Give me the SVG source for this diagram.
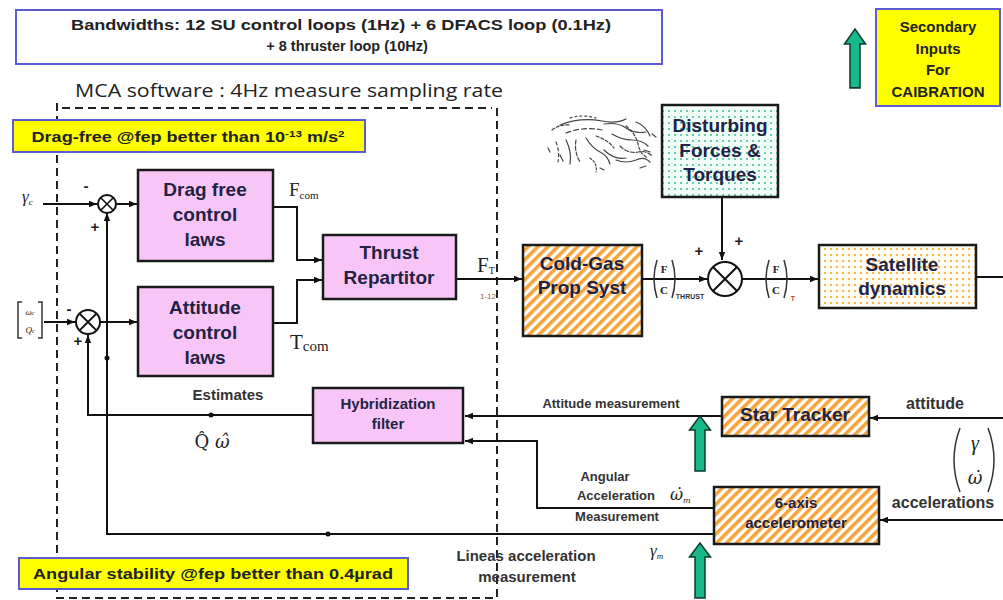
<svg xmlns="http://www.w3.org/2000/svg" width="1003" height="600" viewBox="0 0 1003 600">
  <defs>
    <pattern id="hatch" patternUnits="userSpaceOnUse" width="7" height="7" patternTransform="rotate(45)">
      <rect width="7" height="7" fill="#ffffff"/>
      <rect width="3.6" height="7" fill="#f4a43a"/>
    </pattern>
    <pattern id="dotsGreen" patternUnits="userSpaceOnUse" width="6" height="6">
      <rect width="6" height="6" fill="#f1fcf7"/>
      <circle cx="3" cy="3" r="1" fill="#3dbd9a"/>
    </pattern>
    <pattern id="dotsOrange" patternUnits="userSpaceOnUse" width="6" height="6">
      <rect width="6" height="6" fill="#fffdf5"/>
      <circle cx="3" cy="3" r="1.2" fill="#f6b84e"/>
    </pattern>
    <marker id="arr" viewBox="0 0 10 10" refX="10" refY="5" markerWidth="8" markerHeight="8" orient="auto" markerUnits="userSpaceOnUse">
      <path d="M0 1 L10 5 L0 9 z" fill="#111"/>
    </marker>
    <path id="greenArrow" d="M0 0 L10.5 14 L5 14 L5 55 L-5 55 L-5 14 L-10.5 14 Z"/>
    <style>
      .box { stroke: #1a1a1a; stroke-width: 2.5; }
      .pink { fill: #f8c6f6; }
      .hatch { fill: url(#hatch); }
      .yel { fill: #ffff00; stroke: #5b5bd6; stroke-width: 2; }
      .line { fill: none; stroke: #111; stroke-width: 2; }
      .dash { fill: none; stroke: #222; stroke-width: 2; stroke-dasharray: 8 5; }
      .garrow { fill: #17b88a; stroke: #0d3a2c; stroke-width: 1.5; }
      .bt { font-family: "Liberation Sans", Arial, sans-serif; font-weight: bold; fill: #222244; text-anchor: middle; font-size: 19px; }
      .bs { font-size: 15px; }
      .lbl { font-family: "Liberation Sans", Arial, sans-serif; font-weight: bold; fill: #333; text-anchor: middle; font-size: 13px; }
      .l15 { font-size: 15px; }
      .l16 { font-size: 16px; }
      .note { font-family: "Liberation Sans", Arial, sans-serif; font-weight: bold; fill: #222; text-anchor: middle; font-size: 15px; }
      .math { font-family: "Liberation Serif", "Times New Roman", serif; fill: #222; }
      .dmath { font-family: "DejaVu Serif", serif; fill: #222; }
      .it { font-style: italic; }
      .sign { font-family: "Liberation Sans", Arial, sans-serif; font-weight: bold; fill: #222; font-size: 15px; text-anchor: middle; }
    </style>
  </defs>

  <rect width="1003" height="600" fill="#ffffff"/>

  <!-- header notes -->
  <g id="bandwidths">
    <rect x="16" y="10" width="646" height="54" fill="#ffffff" stroke="#5b5bd6" stroke-width="2"/>
    <text class="note" x="341" y="30" style="font-size:14.5px" textLength="540" lengthAdjust="spacingAndGlyphs">Bandwidths:  12 SU control loops (1Hz) + 6 DFACS loop (0.1Hz)</text>
    <text class="note" x="347" y="51" style="font-size:14.5px">+ 8 thruster loop (10Hz)</text>
  </g>

  <g id="calibration">
    <use href="#greenArrow" class="garrow" transform="translate(855 29) scale(1 1.07)"/>
    <rect x="876" y="9" width="124" height="97" class="yel"/>
    <text class="note" x="938" y="32">Secondary</text>
    <text class="note" x="938" y="54">Inputs</text>
    <text class="note" x="938" y="75">For</text>
    <text class="note" x="938" y="97">CAIBRATION</text>
  </g>

  <text id="mca-title" x="289" y="97" font-family="'Open Sans', 'Liberation Sans', sans-serif" font-size="18" fill="#222" text-anchor="middle" textLength="428" lengthAdjust="spacingAndGlyphs">MCA software : 4Hz measure sampling rate</text>

  <!-- software boundary -->
  <g id="mca-boundary">
    <path class="dash" d="M57 103 V598 H497 V103"/>
    <path class="dash" d="M62 108 H492"/>
  </g>

  <g id="drag-free-note">
    <rect x="13" y="120" width="352" height="32" class="yel"/>
    <text class="note" x="188" y="142" style="font-size:14px" textLength="313" lengthAdjust="spacingAndGlyphs">Drag-free @fep better than 10<tspan font-size="9" dy="-5">-13</tspan><tspan dy="5"> m/s</tspan><tspan font-size="9" dy="-5">2</tspan></text>
  </g>

  <g id="angular-note">
    <rect x="19" y="558" width="389" height="31" class="yel"/>
    <text class="note" x="213" y="579" textLength="360" lengthAdjust="spacingAndGlyphs">Angular  stability @fep better than 0.4µrad</text>
  </g>

  <!-- connectors -->
  <g id="connectors">
    <path class="line" d="M43 204 H97" marker-end="url(#arr)"/>
    <path class="line" d="M116 204 H137" marker-end="url(#arr)"/>
    <path class="line" d="M714 534 H107 V213" marker-end="url(#arr)"/>
    <path class="line" d="M44 322 H75" marker-end="url(#arr)"/>
    <path class="line" d="M100 322 H137" marker-end="url(#arr)"/>
    <path class="line" d="M313 415 H88 V335" marker-end="url(#arr)"/>
    <path class="line" d="M273 207 H297 V260 H322" marker-end="url(#arr)"/>
    <path class="line" d="M273 323 H297 V280 H322" marker-end="url(#arr)"/>
    <path class="line" d="M456 279 H522" marker-end="url(#arr)"/>
    <path class="line" d="M642 279 H707" marker-end="url(#arr)"/>
    <path class="line" d="M722 197 V260" marker-end="url(#arr)"/>
    <path class="line" d="M742 279 H818" marker-end="url(#arr)"/>
    <path class="line" d="M976 277 H1003"/>
    <path class="line" d="M1003 418 H870" marker-end="url(#arr)"/>
    <path class="line" d="M721 416 H465" marker-end="url(#arr)"/>
    <path class="line" d="M1003 520 H880" marker-end="url(#arr)"/>
    <path class="line" d="M714 508 H537 V441 H465" marker-end="url(#arr)"/>
    <circle cx="107" cy="358" r="2.5" fill="#111"/>
    <circle cx="211" cy="415" r="2.5" fill="#111"/>
    <circle cx="328" cy="534" r="2.5" fill="#111"/>
  </g>

  <!-- summing junctions -->
  <g id="sum-drag">
    <circle cx="107" cy="204" r="9" fill="#fff" stroke="#111" stroke-width="2"/>
    <path d="M101 198 L113 210 M113 198 L101 210" stroke="#111" stroke-width="1.6"/>
    <text class="sign" x="86" y="191">-</text>
    <text class="sign" x="95" y="232">+</text>
  </g>
  <g id="sum-attitude">
    <circle cx="88" cy="322" r="12" fill="#fff" stroke="#111" stroke-width="2"/>
    <path d="M80 314 L96 330 M96 314 L80 330" stroke="#111" stroke-width="1.8"/>
    <text class="sign" x="69" y="314">-</text>
    <text class="sign" x="78" y="346">+</text>
  </g>
  <g id="sum-forces">
    <circle cx="725" cy="279" r="17" fill="#fff" stroke="#111" stroke-width="2"/>
    <path d="M713 267 L737 291 M737 267 L713 291" stroke="#111" stroke-width="2"/>
    <text class="sign" x="699" y="256">+</text>
    <text class="sign" x="739" y="246">+</text>
  </g>

  <!-- inputs and signal labels -->
  <g id="gamma-c">
    <text class="math it" x="22" y="202" font-size="17">γ<tspan font-size="9" dy="3">c</tspan></text>
  </g>
  <g id="omega-q-c">
    <path d="M22 302 H18 V338 H22 M38 302 H42 V338 H38" fill="none" stroke="#333" stroke-width="1.5"/>
    <text class="math it" x="30" y="315" font-size="9" text-anchor="middle">ω<tspan font-size="6">c</tspan></text>
    <text class="math it" x="30" y="333" font-size="9" text-anchor="middle">Q<tspan font-size="6">c</tspan></text>
  </g>
  <text class="math" x="289" y="196" font-size="19">F<tspan font-size="11" dy="3">com</tspan></text>
  <text class="math" x="290" y="349" font-size="21">T<tspan font-size="15" dy="2">com</tspan></text>
  <g id="thrust-label">
    <text class="math" x="477" y="272" font-size="21">F<tspan font-size="10" dy="2">T</tspan></text>
    <text x="488" y="299" font-family="'Liberation Sans', sans-serif" font-size="8" fill="#8a6a5a" text-anchor="middle">1-12</text>
  </g>
  <g id="fc-thrust">
    <path d="M657 260 Q651 279 657 298 M672 260 Q678 279 672 298" fill="none" stroke="#333" stroke-width="1.5"/>
    <text class="math" x="664" y="273" font-size="11" text-anchor="middle" font-weight="bold">F</text>
    <text class="math" x="664" y="294" font-size="11" text-anchor="middle" font-weight="bold">C</text>
    <text x="690" y="299" font-family="'Liberation Sans', sans-serif" font-size="7" font-weight="bold" fill="#333" text-anchor="middle">THRUST</text>
  </g>
  <g id="fc-total">
    <path d="M769 260 Q763 279 769 298 M784 260 Q790 279 784 298" fill="none" stroke="#333" stroke-width="1.5"/>
    <text class="math" x="776" y="273" font-size="11" text-anchor="middle" font-weight="bold">F</text>
    <text class="math" x="776" y="294" font-size="11" text-anchor="middle" font-weight="bold">C</text>
    <text x="793" y="301" font-family="'Liberation Sans', sans-serif" font-size="7" font-weight="bold" fill="#c0392b" text-anchor="middle">T</text>
  </g>

  <!-- disturbance sketch -->
  <g id="disturbance-sketch" fill="none" stroke="#444" stroke-width="1.2" stroke-linecap="round">
    <path d="M552 130 q8 -6 18 -5" stroke-dasharray="3 2"/>
    <path d="M560 125 q20 -8 42 -4 q14 3 24 -2"/>
    <path d="M566 133 q18 -7 36 -3" stroke-dasharray="5 3"/>
    <path d="M604 124 q14 -2 22 4 q8 6 20 4"/>
    <path d="M556 142 q4 10 2 20" stroke-dasharray="3 3"/>
    <path d="M566 140 q6 12 4 24"/>
    <path d="M576 140 q-2 12 4 22" stroke-dasharray="4 2"/>
    <path d="M586 138 q6 10 14 14 q8 4 10 12"/>
    <path d="M596 136 q12 4 18 12" stroke-dasharray="3 2"/>
    <path d="M612 134 q10 6 20 6 q10 0 16 6"/>
    <path d="M620 146 q8 8 18 6 q8 -2 14 4" stroke-dasharray="4 2"/>
    <path d="M604 150 q10 10 22 8"/>
    <path d="M590 158 q8 6 6 14" stroke-dasharray="2 2"/>
    <path d="M616 160 q10 4 20 0 q8 -4 14 2"/>
    <path d="M626 126 q10 8 12 18 q2 10 10 14" stroke-dasharray="3 2"/>
    <path d="M636 122 q10 4 14 14"/>
    <path d="M560 155 l3 6 M548 148 l2 4 M600 168 l4 2 M640 168 l6 -2 M652 134 l4 3 M644 150 l6 2"/>
    <path d="M570 118 q12 -4 26 0" stroke-dasharray="2 3"/>
  </g>

  <!-- controller blocks -->
  <g id="drag-free-control">
    <rect x="138" y="170" width="135" height="91" class="box pink"/>
    <text class="bt" x="205" y="196">Drag free</text>
    <text class="bt" x="205" y="221">control</text>
    <text class="bt" x="205" y="246">laws</text>
  </g>
  <g id="attitude-control">
    <rect x="138" y="287" width="135" height="89" class="box pink"/>
    <text class="bt" x="205" y="314">Attitude</text>
    <text class="bt" x="205" y="339">control</text>
    <text class="bt" x="205" y="364">laws</text>
  </g>
  <g id="thrust-repartitor">
    <rect x="323" y="235" width="133" height="64" class="box pink"/>
    <text class="bt" x="389" y="259">Thrust</text>
    <text class="bt" x="389" y="284">Repartitor</text>
  </g>
  <g id="hybridization-filter">
    <rect x="313" y="388" width="150" height="55" class="box pink"/>
    <text class="bt bs" x="388" y="409">Hybridization</text>
    <text class="bt bs" x="388" y="429">filter</text>
  </g>
  <text class="lbl l15" x="228" y="400">Estimates</text>
  <text class="dmath" x="212" y="448" font-size="18" text-anchor="middle">Q̂ <tspan class="it">ω̂</tspan></text>

  <!-- spacecraft blocks -->
  <g id="cold-gas">
    <rect x="523" y="245" width="119" height="91" class="box hatch"/>
    <text class="bt" x="582" y="270">Cold-Gas</text>
    <text class="bt" x="582" y="294">Prop Syst</text>
  </g>
  <g id="disturbing-forces">
    <rect x="662" y="105" width="116" height="92" class="box" fill="url(#dotsGreen)"/>
    <text class="bt" x="720" y="132">Disturbing</text>
    <text class="bt" x="720" y="157">Forces &amp;</text>
    <text class="bt" x="720" y="181">Torques</text>
  </g>
  <g id="satellite-dynamics">
    <rect x="819" y="245" width="157" height="63" class="box" fill="url(#dotsOrange)"/>
    <text class="bt" x="902" y="271">Satellite</text>
    <text class="bt" x="902" y="295">dynamics</text>
  </g>
  <g id="star-tracker">
    <rect x="722" y="397" width="147" height="39" class="box hatch"/>
    <text class="bt" x="795" y="421">Star Tracker</text>
  </g>
  <g id="accelerometer">
    <rect x="714" y="487" width="165" height="57" class="box hatch"/>
    <text class="bt bs" x="796" y="508">6-axis</text>
    <text class="bt bs" x="796" y="528">accelerometer</text>
  </g>

  <!-- measurement labels -->
  <text class="lbl" x="611" y="408">Attitude  measurement</text>
  <text class="lbl" x="605" y="481">Angular</text>
  <text class="lbl" x="616" y="500">Acceleration</text>
  <text class="dmath it" x="670" y="500" font-size="16">ω̇<tspan font-size="8" dy="3">m</tspan></text>
  <text class="lbl" x="617" y="521">Measurement</text>
  <text class="lbl l15" x="526" y="561">Lineas acceleration</text>
  <text class="lbl l15" x="527" y="582">measurement</text>
  <text class="math it" x="650" y="556" font-size="17">γ<tspan font-size="9" dy="3">m</tspan></text>
  <text class="lbl l16" x="935" y="409">attitude</text>
  <text class="lbl l16" x="943" y="508">accelerations</text>
  <g id="gamma-omega">
    <path d="M960 428 Q948 460 960 492 M988 428 Q1000 460 988 492" fill="none" stroke="#333" stroke-width="1.5"/>
    <text class="math it" x="975" y="450" font-size="20" text-anchor="middle">γ</text>
    <text class="dmath it" x="975" y="484" font-size="18" text-anchor="middle">ω̇</text>
  </g>

  <!-- calibration input arrows -->
  <use href="#greenArrow" class="garrow" transform="translate(700 416)"/>
  <use href="#greenArrow" class="garrow" transform="translate(700 543)"/>
</svg>
